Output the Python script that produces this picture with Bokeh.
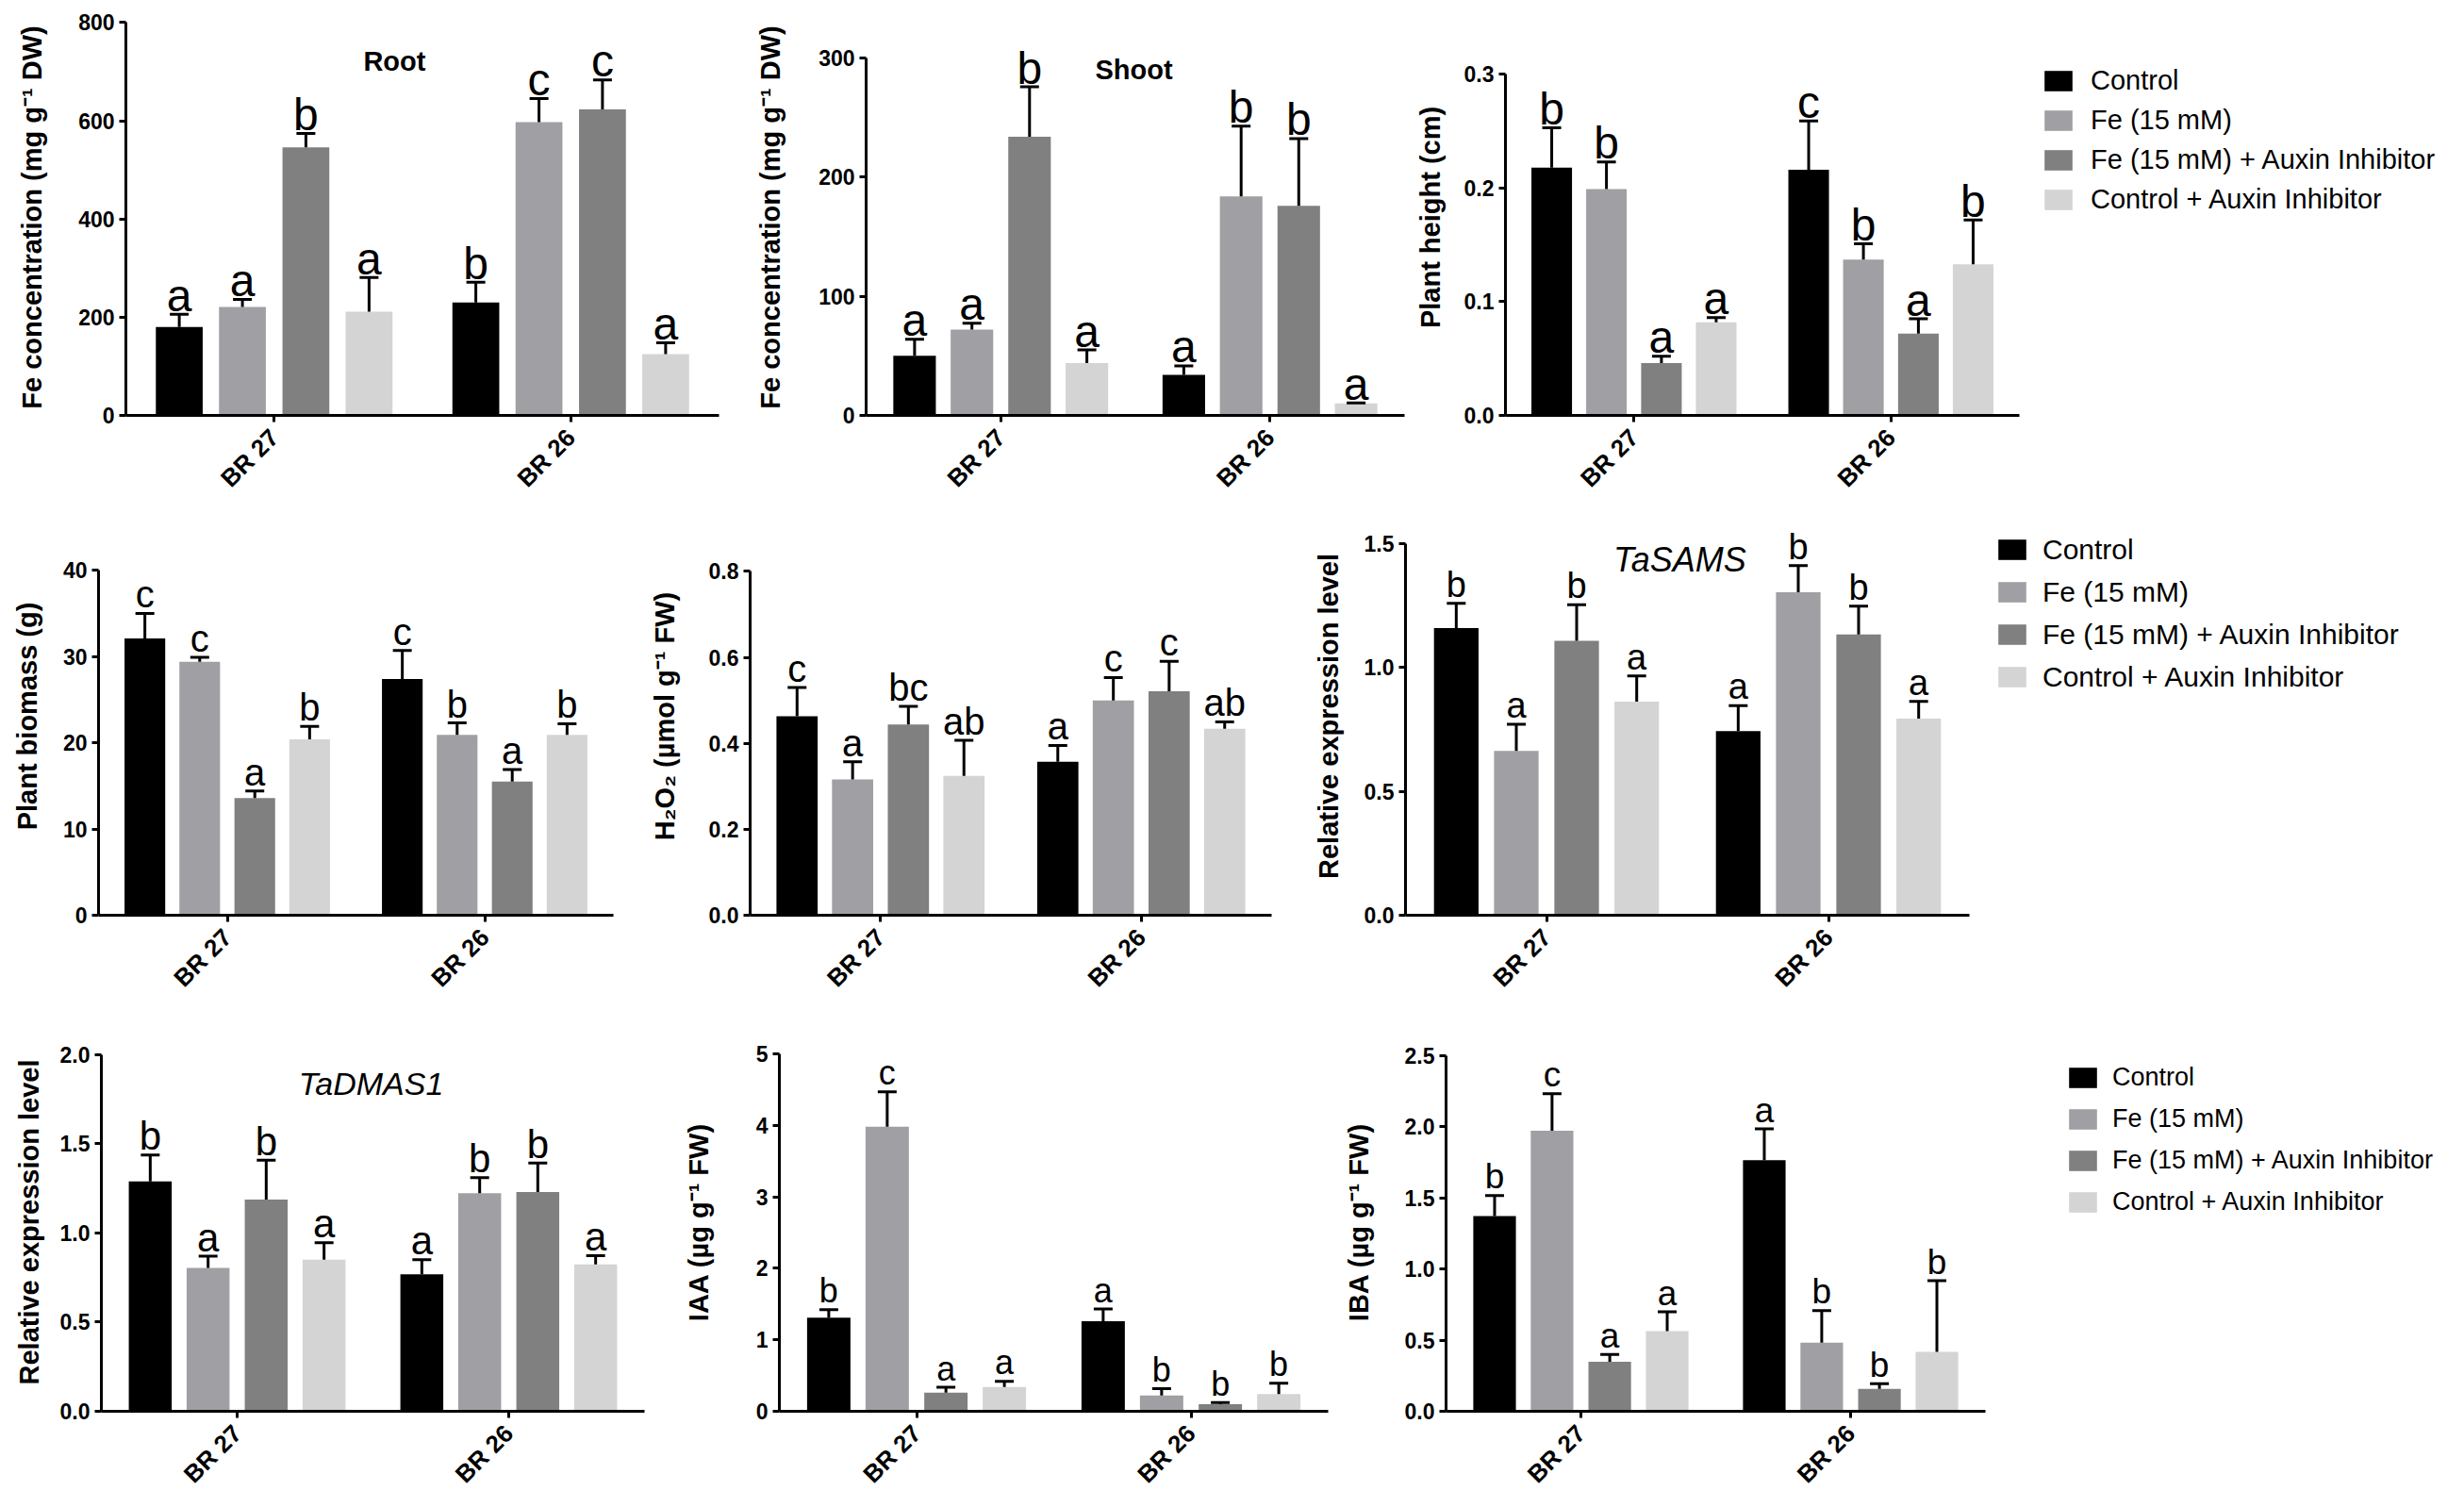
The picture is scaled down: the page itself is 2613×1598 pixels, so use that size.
import math
from bokeh.plotting import figure
from bokeh.models import (ColumnDataSource, FactorRange, Range1d, FixedTicker,
                          NumeralTickFormatter, Label, Legend, LegendItem)
from bokeh.transform import dodge
from bokeh.layouts import column, row
from bokeh.embed import file_html
from bokeh.resources import INLINE
from bokeh.core.properties import value

# ---------------- data ----------------
categories = ["BR 27", "BR 26"]
treatments = ["Control", "Fe (15 mM)", "Fe (15 mM) + Auxin Inhibitor", "Control + Auxin Inhibitor"]
colors = ["#000000", "#a0a0a4", "#808080", "#d4d4d4"]

# each list: per treatment -> [BR 27, BR 26]
root_mean = [[180, 230], [221, 597], [546, 623], [211, 125]]
root_err = [[26, 41], [15, 48], [28, 60], [70, 23]]
root_sig = [["a", "b"], ["a", "c"], ["b", "c"], ["a", "a"]]

shoot_mean = [[50, 34], [72, 184], [234, 176], [44, 10]]
shoot_err = [[14, 7.6], [5.5, 59], [42, 56.5], [11, 0.5]]
shoot_sig = [["a", "a"], ["a", "b"], ["b", "b"], ["a", "a"]]

height_mean = [[0.218, 0.216], [0.199, 0.137], [0.046, 0.072], [0.082, 0.133]]
height_err = [[0.035, 0.043], [0.024, 0.014], [0.006, 0.013], [0.004, 0.039]]
height_sig = [["b", "c"], ["b", "b"], ["a", "a"], ["a", "b"]]

biomass_mean = [[32.1, 27.4], [29.4, 20.9], [13.6, 15.5], [20.4, 20.9]]
biomass_err = [[2.9, 3.3], [0.5, 1.4], [0.8, 1.4], [1.5, 1.3]]
biomass_sig = [["c", "c"], ["c", "b"], ["a", "a"], ["b", "b"]]

h2o2_mean = [[0.463, 0.357], [0.316, 0.500], [0.444, 0.521], [0.324, 0.434]]
h2o2_err = [[0.067, 0.038], [0.041, 0.053], [0.042, 0.070], [0.083, 0.016]]
h2o2_sig = [["c", "a"], ["a", "c"], ["bc", "c"], ["ab", "ab"]]

sams_mean = [[1.158, 0.742], [0.663, 1.302], [1.106, 1.132], [0.861, 0.793]]
sams_err = [[0.100, 0.103], [0.107, 0.108], [0.146, 0.114], [0.104, 0.069]]
sams_sig = [["b", "a"], ["a", "b"], ["b", "b"], ["a", "a"]]

dmas_mean = [[1.289, 0.769], [0.804, 1.223], [1.188, 1.230], [0.850, 0.824]]
dmas_err = [[0.148, 0.082], [0.066, 0.087], [0.220, 0.163], [0.096, 0.049]]
dmas_sig = [["b", "a"], ["a", "b"], ["b", "b"], ["a", "a"]]

iaa_mean = [[1.31, 1.26], [3.98, 0.22], [0.26, 0.10], [0.34, 0.24]]
iaa_err = [[0.11, 0.17], [0.49, 0.096], [0.075, 0.022], [0.078, 0.152]]
iaa_sig = [["b", "a"], ["c", "b"], ["a", "b"], ["a", "b"]]

iba_mean = [[1.373, 1.765], [1.973, 0.483], [0.348, 0.157], [0.564, 0.418]]
iba_err = [[0.144, 0.220], [0.260, 0.224], [0.052, 0.037], [0.135, 0.500]]
iba_sig = [["b", "a"], ["c", "b"], ["a", "b"], ["a", "b"]]

root_ticks = [0, 200, 400, 600, 800]
shoot_ticks = [0, 100, 200, 300]
height_ticks = [0.0, 0.1, 0.2, 0.3]
biomass_ticks = [0, 10, 20, 30, 40]
h2o2_ticks = [0.0, 0.2, 0.4, 0.6, 0.8]
sams_ticks = [0.0, 0.5, 1.0, 1.5]
dmas_ticks = [0.0, 0.5, 1.0, 1.5, 2.0]
iaa_ticks = [0, 1, 2, 3, 4, 5]
iba_ticks = [0.0, 0.5, 1.0, 1.5, 2.0, 2.5]

# ---------------- styling / layout ----------------
FONT = "Liberation Sans"
OFFSETS = [-0.32, -0.107, 0.107, 0.32]
BAR_W = 0.158

# row top, row bottom, frame top, frame bottom (zero line)
ROWS = [(0, 535, 20, 441), (535, 1065, 548, 970), (1065, 1591, 1095, 1497)]


def make_panel(mean, err, sig, ylabel, ticks, fmt, rowi, fx0, fx1, L, R, top_px,
               letter_px, lab_standoff, title=None, title_xy=None, title_style="bold", title_px=29):
    row_top, row_bot, ftop, zr = ROWS[rowi]
    vmax = ticks[-1]
    end = vmax * (zr - ftop) / (zr - top_px)
    p = figure(x_range=FactorRange(*categories), y_range=Range1d(0, end),
               width=fx1 - fx0, height=row_bot - row_top,
               min_border_left=L - fx0, min_border_right=fx1 - R,
               min_border_top=ftop - row_top, min_border_bottom=row_bot - zr,
               output_backend="svg", toolbar_location=None, tools="")
    p.xgrid.visible = False
    p.ygrid.visible = False
    p.outline_line_color = None
    srcs = []
    for i in range(4):
        up = [m + e for m, e in zip(mean[i], err[i])]
        src = ColumnDataSource(dict(cat=categories, val=mean[i], up=up, sig=sig[i]))
        srcs.append(src)
        xd = dodge("cat", OFFSETS[i], range=p.x_range)
        p.vbar(x=xd, top="val", width=BAR_W, source=src, fill_color=colors[i], line_color=None)
        p.segment(x0=xd, y0="val", x1=xd, y1="up", source=src, line_color="black", line_width=3)
        p.scatter(x=xd, y="up", source=src, marker="dash", size=20, line_color="black", line_width=3)
        p.text(x=xd, y="up", text="sig", source=src, text_font=value(FONT),
               text_font_size=f"{letter_px}px", text_align="center",
               text_baseline="alphabetic", y_offset=-20, text_color="black")
    for ax in p.axis:
        ax.axis_line_width = 3
        ax.axis_line_color = "black"
        ax.major_tick_line_width = 3
        ax.major_tick_out = 7
        ax.major_tick_in = 0
        ax.minor_tick_out = 0
        ax.minor_tick_in = 0
        ax.major_label_text_font = FONT
        ax.major_label_text_font_style = "bold"
        ax.major_label_text_color = "black"
    p.yaxis.bounds = (0, vmax)
    p.yaxis.ticker = FixedTicker(ticks=ticks)
    p.yaxis.formatter = NumeralTickFormatter(format=fmt)
    p.yaxis.major_label_text_font_size = "23px"
    p.yaxis.major_label_standoff = 5
    p.yaxis.axis_label = ylabel
    p.yaxis.axis_label_text_font = FONT
    p.yaxis.axis_label_text_font_style = "bold"
    p.yaxis.axis_label_text_font_size = "29px"
    p.yaxis.axis_label_text_color = "black"
    p.yaxis.axis_label_standoff = lab_standoff
    p.xaxis.major_label_orientation = math.pi / 4
    p.xaxis.major_label_text_font_size = "26px"
    p.xaxis.major_label_standoff = 12
    if title is not None:
        p.add_layout(Label(x=title_xy[0], y=title_xy[1], text=title, text_font=FONT,
                           text_font_size=f"{title_px}px", text_font_style=title_style,
                           text_align="center", text_baseline="middle", text_color="black"))
    return p, srcs


def make_legend(srcs, rowi, fx0, fx1, glyph_left, glyph_top, font_px, step, label_h, standoff):
    row_top, row_bot, ftop, zr = ROWS[rowi]
    gh = 27
    spacing = step - label_h
    leg_h = 4 * label_h + 3 * spacing
    leg_top = glyph_top - (label_h - gh) / 2.0
    p = figure(x_range=FactorRange(*categories), y_range=Range1d(0, 1),
               width=fx1 - fx0, height=row_bot - row_top,
               min_border_left=glyph_left - fx0, min_border_right=0,
               min_border_top=ftop - row_top, min_border_bottom=row_bot - zr,
               output_backend="svg", toolbar_location=None, tools="")
    p.axis.visible = False
    p.xgrid.visible = False
    p.ygrid.visible = False
    p.outline_line_color = None
    items = []
    for t, c, s in zip(treatments, colors, srcs):
        # zero-size proxy bars: only their legend swatch is visible
        r = p.vbar(x="cat", top="val", bottom="val", width=0, source=s,
                   fill_color=c, line_color=None)
        items.append(LegendItem(label=t, renderers=[r]))
    leg = Legend(items=items, location=(0, zr - leg_top - leg_h), margin=0, padding=0,
                 border_line_color=None, background_fill_alpha=0,
                 glyph_width=37, glyph_height=gh, label_height=label_h,
                 label_standoff=standoff, spacing=int(round(spacing)),
                 label_text_font=FONT, label_text_font_size=f"{font_px}px",
                 label_text_color="black")
    p.add_layout(leg)
    return p


fe_label = "Fe concentration (mg g\u207b\u00b9 DW)"

p1, _ = make_panel(root_mean, root_err, root_sig, fe_label, root_ticks, "0", 0,
                   0, 790, 133, 762, 23.4, 48, 30, "Root", (0.906, 722))
p2, _ = make_panel(shoot_mean, shoot_err, shoot_sig, fe_label, shoot_ticks, "0", 0,
                   790, 1494, 918, 1489, 61.3, 48, 32, "Shoot", (0.995, 290))
p3, s3 = make_panel(height_mean, height_err, height_sig, "Plant height (cm)", height_ticks, "0.0", 0,
                    1494, 2150, 1596, 2141, 78.5, 48, 17)
l1 = make_legend(s3, 0, 2150, 2605, 2164, 73, 29, 42, 34, 16)

p4, _ = make_panel(biomass_mean, biomass_err, biomass_sig, "Plant biomass (g)", biomass_ticks, "0", 1,
                   0, 680, 104, 650, 604.2, 40, 19)
p5, _ = make_panel(h2o2_mean, h2o2_err, h2o2_sig, "H\u2082O\u2082 (\u00b5mol g\u207b\u00b9 FW)", h2o2_ticks, "0.0", 1,
                   680, 1385, 795, 1348, 605.4, 40, 28)
p6, s6 = make_panel(sams_mean, sams_err, sams_sig, "Relative expression level", sams_ticks, "0.0", 1,
                    1385, 2095, 1490, 2088, 575.5, 38, 19, "TaSAMS", (0.973, 1.434), "italic", 36)
l2 = make_legend(s6, 1, 2095, 2605, 2115, 569, 30, 45, 35, 14)

p7, _ = make_panel(dmas_mean, dmas_err, dmas_sig, "Relative expression level", dmas_ticks, "0.0", 2,
                   0, 710, 107, 683, 1118, 42, 14, "TaDMAS1", (0.993, 1.836), "italic", 34)
p8, _ = make_panel(iaa_mean, iaa_err, iaa_sig, "IAA (\u00b5g g\u207b\u00b9 FW)", iaa_ticks, "0", 2,
                   710, 1418, 826, 1408, 1117, 36, 42)
p9, s9 = make_panel(iba_mean, iba_err, iba_sig, "IBA (\u00b5g g\u207b\u00b9 FW)", iba_ticks, "0.0", 2,
                    1418, 2110, 1533, 2105, 1119, 37, 30)
l3 = make_legend(s9, 2, 2110, 2605, 2190, 1130, 27, 44, 32, 13)

layout = column(row(p1, p2, p3, l1), row(p4, p5, p6, l2), row(p7, p8, p9, l3))

open("out.html", "w").write(file_html(layout, INLINE))
